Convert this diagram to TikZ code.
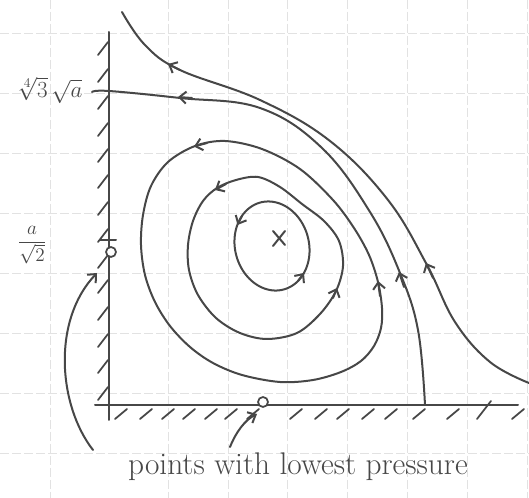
\documentclass[tikz,border=0pt]{standalone}
\usetikzlibrary{arrows.meta}
\definecolor{inkc}{HTML}{474747}
\definecolor{gridc}{HTML}{E2E2E2}
\begin{document}
\begin{tikzpicture}[x=0.75pt,y=-0.75pt,
  ink/.style={draw=inkc,line width=1.5pt,line cap=round,line join=round},
  hatch/.style={draw=inkc,line width=1.3pt,line cap=round},
  gridline/.style={draw=gridc,line width=0.6pt,dash pattern=on 7pt off 2pt},
  tipseg/.style={ink,-{Straight Barb[length=5pt,width=9pt]}},
  lowpt/.style={circle,draw=inkc,line width=1.3pt,fill=white,inner sep=0pt,minimum size=7.5pt}]
\useasboundingbox (0,0) rectangle (529,498);
\fill[white] (0,0) rectangle (529,498);
% grid
\foreach \gx in {50,168,228,287,347,407,467,527} \draw[gridline] (\gx,0) -- (\gx,498);
\foreach \gy in {33,93,153,213,273,333,393,453} \draw[gridline] (0,\gy) -- (529,\gy);
% axes
\coordinate (ytop) at (109,32);
\coordinate (ybot) at (109,420);
\coordinate (xleft) at (95,405);
\coordinate (xright) at (518,405);
\draw[ink] (ytop) -- (ybot);
\draw[ink] (xleft) -- (xright);
% hatching
\foreach \hy in {45,72,99,126,152,178,205,232,258,283,310,337,363,390} \draw[hatch] (98,\hy+10) -- (108,\hy-3);
\foreach \hx in {115,140,162,183,205,225,247,290,315,337,362,385,413,447,512} \draw[hatch] (\hx,419) -- (\hx+12,409);
\draw[hatch] (477,419) -- (491,401);
% ticks
\coordinate (tickA) at (92,92);
\coordinate (tickB) at (100,240);
\coordinate (tickBr) at (116,240);
\draw[ink] (tickB) -- (tickBr);
% outer streamline
\draw[ink] plot[smooth,tension=0.65] coordinates {(122,12) (145,45) (180,70) (260,100) (330,141) (388,200) (427,265) (455,322) (490,362) (529,383)};
% separatrix to the wall
\draw[ink] plot[smooth,tension=0.65] coordinates {(tickA) (109,91) (180,98) (260,108) (322,148) (370,212) (400,273) (418,330) (425,405)};
% closed orbits
\draw[ink] plot[smooth cycle,tension=0.55] coordinates {(225,141) (195,146) (168,162) (151,186) (143,215) (141,245) (145,275) (155,302) (170,326) (190,347) (213,363) (242,375) (280,382) (313,380) (341,372) (361,361) (374,346) (381,328) (382,308) (378,282) (369,255) (354,228) (333,200) (300,169) (262,149)};
\draw[ink] plot[smooth cycle,tension=0.55] coordinates {(258,177) (236,180) (217,188) (203,201) (193,221) (188,245) (189,270) (198,295) (216,318) (240,333) (267,339) (297,333) (320,314) (336,291) (343,266) (339,241) (324,221) (302,204) (280,187)};
\draw[ink] plot[smooth,domain=0:360,samples=100] ({272+11.65*cos(\x)-35.7*sin(\x)},{246+43.5*cos(\x)+9.58*sin(\x)}) -- cycle;
% centre
\coordinate (cen) at (279,238);
\draw[ink] (273,231) -- (285,245);
\draw[ink] (285,231) -- (273,246);
% arrowheads on the streamlines
\draw[tipseg] (180,70) -- (168,64);
\draw[tipseg] (192,98) -- (178,97);
\draw[tipseg] (207,143) -- (194,146.5);
\draw[tipseg] (226,184) -- (215,190);
\draw[tipseg] (242,216) -- (237.5,225);
\draw[tipseg] (298,281) -- (304,273);
\draw[tipseg] (333,298) -- (337,288);
\draw[tipseg] (380,296) -- (378,281);
\draw[tipseg] (404,287) -- (399,272);
\draw[tipseg] (433,278) -- (426,263);
% labels
\node[text=inkc,font=\LARGE] (lblA) at (50,90) {$\sqrt[4]{3}\,\sqrt{a}$};
\node[text=inkc,font=\Large] (lblB) at (32,245) {$\displaystyle\frac{a}{\sqrt{2}}$};
% low pressure points
\node[lowpt] (p1) at (111,252) {};
\node[lowpt] (p2) at (263,402) {};
\node[text=inkc,font=\fontsize{23.5}{27}\selectfont] (txt) at (298,467) {points with lowest pressure};
% pointers
\coordinate (srcA) at (93,450);
\coordinate (endA) at (97,273);
\coordinate (srcB) at (230,447);
\coordinate (endB) at (257,414);
\draw[tipseg] (srcA) .. controls (58,405) and (52,320) .. (endA);
\draw[tipseg] (srcB) .. controls (236,432) and (245,420) .. (endB);
\end{tikzpicture}
\end{document}
